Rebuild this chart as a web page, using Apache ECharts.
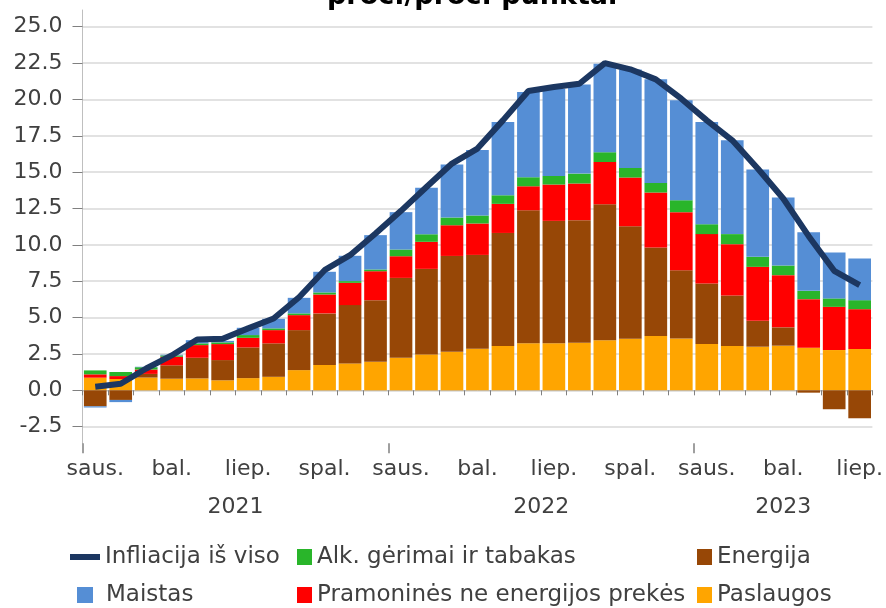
<!DOCTYPE html>
<html>
<head>
<meta charset="utf-8">
<script src="https://cdn.jsdelivr.net/npm/echarts@6/dist/echarts.min.js"></script>
<style>
  html, body { margin: 0; padding: 0; background: #fff; }
  #chart { width: 886px; height: 608px; }
</style>
</head>
<body>
<div id="chart"></div>
<script>
// mėnesiai ir metai
const monthNames = ['saus.', 'vas.', 'kov.', 'bal.', 'geg.', 'birž.', 'liep.', 'rugp.', 'rugs.', 'spal.', 'lapkr.', 'gruod.'];
const years = ['2021', '2022', '2023'];
const monthsPerYear = [12, 12, 7];

// indėliai, proc. punktai
const paslaugos = [0.87, 0.78, 0.88, 0.80, 0.82, 0.69, 0.84, 0.93, 1.39, 1.74, 1.85, 1.96, 2.24, 2.47, 2.65, 2.86, 3.04, 3.23, 3.23, 3.27, 3.45, 3.54, 3.73, 3.57, 3.18, 3.04, 3.00, 3.07, 2.93, 2.77, 2.84];
const energija = [-1.10, -0.66, 0.25, 0.92, 1.42, 1.39, 2.11, 2.30, 2.75, 3.55, 4.01, 4.24, 5.49, 5.88, 6.59, 6.45, 7.78, 9.15, 8.42, 8.43, 9.35, 7.74, 6.09, 4.69, 4.17, 3.48, 1.78, 1.26, -0.16, -1.30, -1.92];
const pramonines = [0.23, 0.20, 0.30, 0.59, 0.87, 1.10, 0.66, 0.91, 1.03, 1.30, 1.53, 1.99, 1.49, 1.86, 2.11, 2.16, 2.00, 1.65, 2.50, 2.52, 2.90, 3.35, 3.78, 3.99, 3.39, 3.53, 3.71, 3.59, 3.34, 2.97, 2.74];
const alkoholis = [0.27, 0.28, 0.16, 0.09, 0.12, 0.12, 0.19, 0.12, 0.12, 0.14, 0.12, 0.12, 0.46, 0.52, 0.53, 0.55, 0.59, 0.62, 0.59, 0.68, 0.67, 0.66, 0.66, 0.82, 0.68, 0.69, 0.69, 0.66, 0.57, 0.58, 0.62];
const maistas = [-0.08, -0.15, 0.03, 0.05, 0.22, 0.10, 0.50, 0.66, 1.07, 1.42, 1.74, 2.36, 2.57, 3.19, 3.64, 4.50, 5.04, 5.86, 6.00, 6.12, 6.09, 6.76, 7.12, 6.87, 7.03, 6.45, 6.00, 4.67, 4.03, 3.16, 2.87];
const infliacija = [0.25, 0.45, 1.5, 2.4, 3.5, 3.54, 4.26, 4.94, 6.4, 8.26, 9.29, 10.78, 12.34, 13.98, 15.59, 16.62, 18.56, 20.58, 20.85, 21.08, 22.5, 22.07, 21.38, 20.05, 18.56, 17.19, 15.25, 13.19, 10.6, 8.22, 7.23];

const FONT = 'DejaVu Sans';
const TXT = '#404040';

// kategorijos: 2021-01 ... 2023-07
let categories = [];
years.forEach((y, yi) => {
  for (let m = 0; m < monthsPerYear[yi]; m++) categories.push(y + '-' + (m + 1));
});

// metų ašis: pusės mėnesio žingsnis, užrašas metų viduryje
let yearAxisData = new Array(categories.length * 2 + 1).fill('');
let yearTicks = [];
let start = 0;
years.forEach((y, yi) => {
  yearTicks.push(start * 2);
  yearAxisData[start * 2 + monthsPerYear[yi]] = y;
  start += monthsPerYear[yi];
});

const chart = echarts.init(document.getElementById('chart'));

function legendItem(name, left, top, w, h, color, pad) {
  return {
    data: [{ name: name, icon: 'rect', itemStyle: { color: color } }],
    left: left, top: top, padding: 0,
    itemWidth: w, itemHeight: h,
    selectedMode: false,
    textStyle: { fontFamily: FONT, fontSize: 23, color: TXT, lineHeight: 24, padding: [0, 0, 0, pad || 0] }
  };
}

const option = {
  animation: false,
  title: {
    text: 'proc./proc. punktai',
    left: 322, top: -22,
    textStyle: { fontFamily: FONT, fontSize: 27, fontWeight: 'bold', color: '#000' }
  },
  legend: [
    legendItem('Infliacija iš viso', 70, 545, 30, 6, '#1c3761'),
    legendItem('Alk. gėrimai ir tabakas', 297, 545, 15, 16, '#29b52a'),
    legendItem('Energija', 697, 545, 15, 16, '#974706'),
    legendItem('Maistas', 77, 583, 16, 16, '#558ed5', 8),
    legendItem('Pramoninės ne energijos prekės', 297, 583, 15, 16, '#ff0000'),
    legendItem('Paslaugos', 697, 583, 15, 16, '#ffa500')
  ],
  grid: [
    { left: 82.5, right: 12.5, top: 26.7, bottom: 181.3 },
    { left: 82.5, right: 12.5, top: 10, bottom: 164.7 }
  ],
  xAxis: [
    {
      type: 'category', data: categories, gridIndex: 0,
      position: 'bottom', offset: 16.6,
      axisLine: { show: true, lineStyle: { color: '#bfbfbf', width: 1 } },
      axisTick: { show: true, interval: 0, length: 5, lineStyle: { color: '#808080' } },
      axisLabel: {
        interval: 2, margin: 15,
        fontFamily: FONT, fontSize: 22, color: TXT,
        formatter: (v, i) => monthNames[i % 12]
      }
    },
    {
      type: 'category', data: yearAxisData, gridIndex: 0, boundaryGap: false,
      position: 'bottom', offset: 16.6,
      axisLine: { show: false },
      axisTick: { show: true, length: 10, interval: (i) => yearTicks.indexOf(i) >= 0, lineStyle: { color: '#808080', width: 1.5 } },
      axisLabel: {
        interval: (i, v) => v !== '', margin: 53,
        fontFamily: FONT, fontSize: 22, color: TXT
      }
    },
    { type: 'value', gridIndex: 1, show: false }
  ],
  yAxis: [
    {
      type: 'value', gridIndex: 0, min: -2.5, max: 25, interval: 2.5,
      axisLine: { show: false },
      axisTick: { show: true, length: 10, lineStyle: { color: '#808080' } },
      splitLine: { lineStyle: { color: '#d9d9d9', width: 1.5 } },
      axisLabel: { margin: 20, fontFamily: FONT, fontSize: 22, color: TXT, formatter: v => v.toFixed(1) }
    },
    {
      type: 'value', gridIndex: 1, min: 0, max: 1,
      axisLine: { show: true, lineStyle: { color: '#bfbfbf', width: 1 } },
      axisTick: { show: false }, axisLabel: { show: false }, splitLine: { show: false }
    }
  ],
  series: [
    { name: 'Paslaugos', type: 'bar', stack: 'a', data: paslaugos, barCategoryGap: '11%', itemStyle: { color: '#ffa500' } },
    { name: 'Energija', type: 'bar', stack: 'a', data: energija, itemStyle: { color: '#974706' } },
    { name: 'Pramoninės ne energijos prekės', type: 'bar', stack: 'a', data: pramonines, itemStyle: { color: '#ff0000' } },
    { name: 'Alk. gėrimai ir tabakas', type: 'bar', stack: 'a', data: alkoholis, itemStyle: { color: '#29b52a' } },
    { name: 'Maistas', type: 'bar', stack: 'a', data: maistas, itemStyle: { color: '#558ed5' } },
    {
      name: 'Infliacija iš viso', type: 'line', data: infliacija, z: 5,
      symbol: 'none', lineStyle: { color: '#1c3761', width: 6 }, itemStyle: { color: '#1c3761' }
    }
  ]
};

chart.setOption(option);
</script>
</body>
</html>
